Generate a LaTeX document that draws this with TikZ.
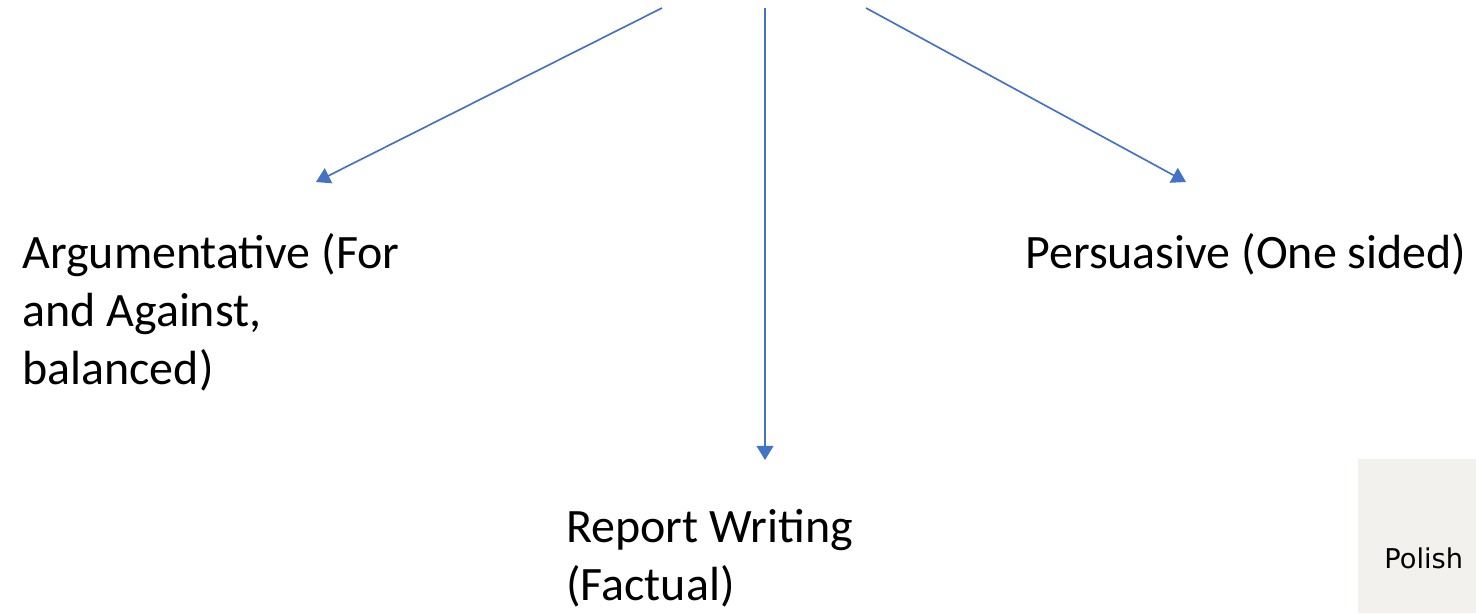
\documentclass[tikz,border=0pt]{standalone}
\usepackage{fontspec}
\setmainfont{Carlito}
\newfontfamily\handfont{DejaVu Sans}
\usetikzlibrary{arrows.meta}
\definecolor{arrowblue}{HTML}{4472C4}
\definecolor{photobg}{HTML}{F2F1EE}
\tikzset{
  px/.style={x=0.02cm,y=-0.02cm},
  conn/.style={draw=arrowblue, line width=0.95pt, -{Triangle[width=9.5pt,length=8pt]}},
  label/.style={anchor=base west, inner sep=0pt, align=left, font=\fontsize{27.3}{33}\selectfont}
}
\begin{document}
\begin{tikzpicture}[px]
\useasboundingbox (0,0) rectangle (1476,613);
% photo fragment
\fill[photobg] (1358,459) rectangle (1476,613);
\node[anchor=base west, inner sep=0pt, font=\handfont\fontsize{15.5}{18}\selectfont] (polish) at (1384,568) {Polish};
% labels (anchored at baseline of last line)
\node[label] (arg) at (22,384) {Argumentative (For\\and Against,\\balanced)};
\node[label] (pers) at (1025,268) {Persuasive (One sided)};
\node[label] (rep) at (566,600) {Report Writing\\(Factual)};
% connector endpoints
\coordinate (s1) at (662,8);
\coordinate (s2) at (765,8);
\coordinate (s3) at (866,8);
\coordinate (e1) at (316,182);
\coordinate (e2) at (765,460);
\coordinate (e3) at (1186,182);
\draw[conn] (s1) -- (e1);
\draw[conn] (s2) -- (e2);
\draw[conn] (s3) -- (e3);
\end{tikzpicture}
\end{document}
